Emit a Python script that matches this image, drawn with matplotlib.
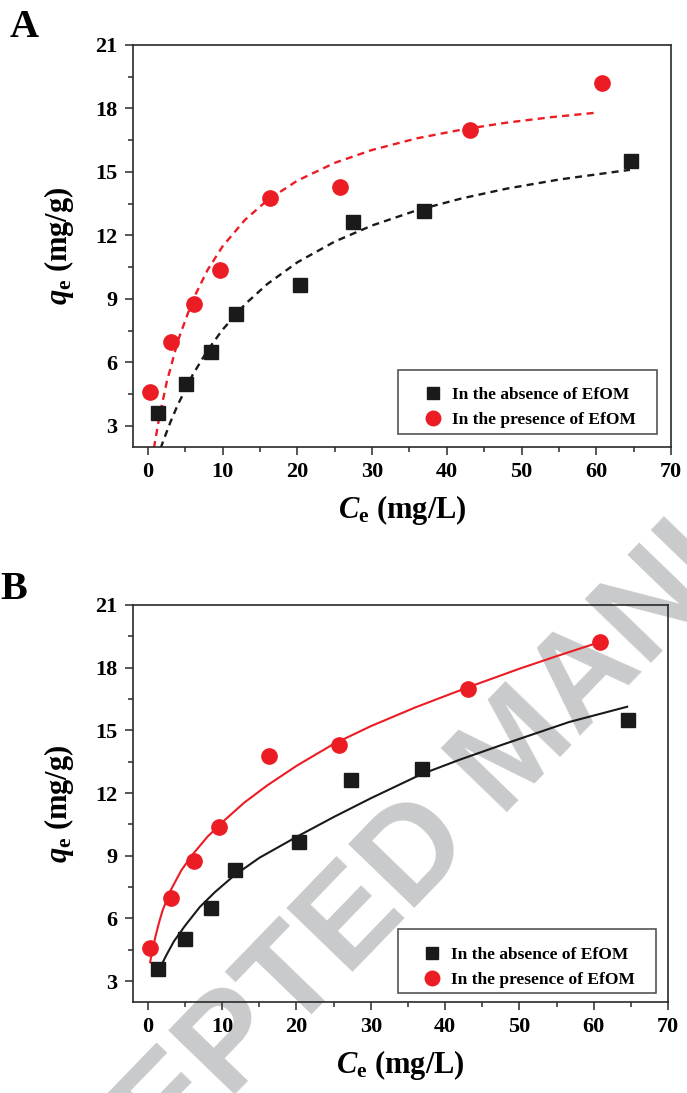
import matplotlib
matplotlib.use("Agg")
import matplotlib.pyplot as plt
from matplotlib.patches import Rectangle
from matplotlib.ticker import MultipleLocator

# ---------------- data ----------------
ce_absence = [1.4, 5.05, 8.5, 11.75, 20.4, 27.4, 36.9, 64.6]
qe_absence = [3.6, 5.0, 6.5, 8.3, 9.65, 12.63, 13.14, 15.5]
ce_presence = [0.3, 3.05, 6.2, 9.6, 16.3, 25.7, 43.1, 60.8]
qe_presence = [4.6, 6.98, 8.77, 10.37, 13.76, 14.28, 16.97, 19.22]

# fitted curves (dashed)
fitA_abs_c = [1.7, 2.0, 3.0, 4.0, 6.0, 8.0, 10.0, 13.0, 16.0, 20.0, 25.0, 30.0, 36.0, 42.0, 48.0, 55.0, 64.5]
fitA_abs_q = [1.94, 2.24, 3.17, 4.0, 5.42, 6.58, 7.55, 8.75, 9.71, 10.73, 11.71, 12.47, 13.19, 13.75, 14.21, 14.64, 15.1]
fitA_pres_c = [0.8, 1.5, 2.5, 4.0, 6.0, 8.0, 10.0, 13.0, 16.0, 20.0, 25.0, 30.0, 36.0, 42.0, 48.0, 54.0, 60.0]
fitA_pres_q = [1.95, 3.37, 5.05, 7.01, 8.95, 10.38, 11.49, 12.74, 13.67, 14.59, 15.43, 16.04, 16.59, 17.0, 17.33, 17.59, 17.8]

# fitted curves (solid)
fitB_abs_c = [1.8, 2.5, 3.5, 5.0, 7.0, 9.0, 11.6, 15.0, 20.0, 25.0, 30.0, 36.8, 42.0, 48.0, 56.7, 64.5]
fitB_abs_q = [3.75, 4.25, 4.9, 5.65, 6.55, 7.25, 8.05, 8.9, 9.9, 10.85, 11.75, 12.9, 13.6, 14.35, 15.4, 16.13]
fitB_pres_c = [0.3, 0.6, 1.0, 1.5, 2.0, 3.0, 4.5, 6.0, 8.0, 10.0, 13.0, 16.0, 20.0, 25.0, 30.0, 36.0, 43.0, 50.0, 55.0, 60.6]
fitB_pres_q = [3.9, 4.45, 5.1, 5.8, 6.4, 7.3, 8.3, 9.05, 9.9, 10.6, 11.55, 12.35, 13.3, 14.35, 15.2, 16.1, 17.05, 17.95, 18.55, 19.2]

labels = ["In the absence of EfOM", "In the presence of EfOM"]
x_ticks = [0, 10, 20, 30, 40, 50, 60, 70]
y_ticks = [3, 6, 9, 12, 15, 18, 21]

# ---------------- style ----------------
plt.rcParams['font.family'] = ['Liberation Serif', 'DejaVu Serif']
plt.rcParams['font.weight'] = 'bold'
plt.rcParams['mathtext.fontset'] = 'custom'
plt.rcParams['mathtext.rm'] = 'Liberation Serif:bold'
plt.rcParams['mathtext.it'] = 'Liberation Serif:italic:bold'
plt.rcParams['mathtext.bf'] = 'Liberation Serif:bold'

RED = '#ec1c24'
BLK = '#1a1a1a'
SPINE = '#2a2a2a'

W, H = 687, 1093
fig = plt.figure(figsize=(W / 100, H / 100), dpi=100)

# watermark behind everything
fig.text(518 / W, 1 - 752 / H, 'ACCEPTED MANUSCRIPT', rotation=46, ha='center', va='center',
         rotation_mode='anchor', fontsize=96, color='#c9cacb', family='Liberation Sans',
         fontweight='bold', zorder=-10)

axA = fig.add_axes([133 / W, 1 - 447 / H, 538 / W, 402 / H])
axB = fig.add_axes([133 / W, 1 - 1002 / H, 535 / W, 397 / H])


def style_axes(ax):
    ax.patch.set_alpha(0)
    ax.set_xlim(-2, 70)
    ax.set_ylim(2, 21)
    ax.set_xticks(x_ticks)
    ax.set_yticks(y_ticks)
    ax.xaxis.set_minor_locator(MultipleLocator(5))
    ax.yaxis.set_minor_locator(MultipleLocator(1.5))
    ax.tick_params(which='both', direction='out', top=False, right=False,
                   color=SPINE, width=1.1)
    ax.tick_params(which='major', length=6, labelsize=16, pad=5)
    ax.tick_params(which='minor', length=3.5)
    for s in ax.spines.values():
        s.set_linewidth(1.2)
        s.set_color(SPINE)
    for lbl in ax.get_xticklabels() + ax.get_yticklabels():
        lbl.set_fontweight('bold')
    ax.set_xlabel(r'$C_{\mathrm{e}}$ (mg/L)', fontsize=22, fontweight='bold', labelpad=8)
    ax.set_ylabel(r'$q_{\mathrm{e}}$ (mg/g)', fontsize=22, fontweight='bold', labelpad=14)


def draw_panel(ax, abs_c, abs_q, pres_c, pres_q, dashes, frame, anchor):
    if dashes:
        ax.plot(abs_c, abs_q, color=BLK, lw=1.7, dashes=(3, 2.2), zorder=2)
        ax.plot(pres_c, pres_q, color=RED, lw=1.7, dashes=(3, 2.2), zorder=2)
    else:
        ax.plot(abs_c, abs_q, color=BLK, lw=1.5, zorder=2)
        ax.plot(pres_c, pres_q, color=RED, lw=1.5, zorder=2)
    h1, = ax.plot(ce_absence, qe_absence, 's', color=BLK, ms=9.5, ls='none', zorder=3,
                  label=labels[0])
    h2, = ax.plot(ce_presence, qe_presence, 'o', color=RED, ms=11, ls='none', zorder=3,
                  label=labels[1])
    x0, y0, x1, y1 = frame
    ax.add_patch(Rectangle((x0, y0), x1 - x0, y1 - y0, transform=ax.transAxes,
                           fill=False, edgecolor='#555555', lw=1.2, zorder=4))
    leg = ax.legend(handles=[h1, h2], loc='center left', bbox_to_anchor=anchor,
                    frameon=False, fontsize=12.5, handlelength=1.0, handletextpad=0.6,
                    labelspacing=0.5, borderpad=0, borderaxespad=0, markerscale=0.95)
    for t in leg.get_texts():
        t.set_fontweight('bold')


style_axes(axA)
style_axes(axB)
draw_panel(axA, fitA_abs_c, fitA_abs_q, fitA_pres_c, fitA_pres_q, True,
           (0.4926, 0.0323, 0.974, 0.1915), (0.5414, 0.0983))
draw_panel(axB, fitB_abs_c, fitB_abs_q, fitB_pres_c, fitB_pres_q, False,
           (0.4953, 0.0237, 0.9768, 0.1839), (0.5419, 0.0872))

fig.text(10 / W, 1 - 37 / H, 'A', fontsize=29, fontweight='bold', va='baseline', ha='left')
fig.text(0 / W, 1 - 599 / H, 'B', fontsize=29, fontweight='bold', va='baseline', ha='left')

fig.savefig('out.png', dpi=100)
